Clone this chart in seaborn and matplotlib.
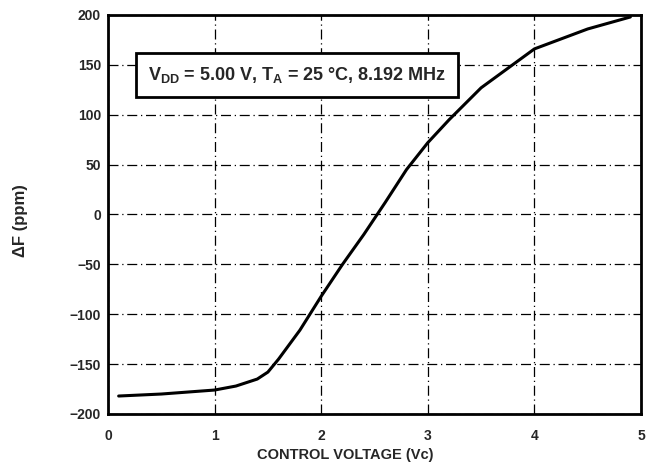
import matplotlib
matplotlib.use("Agg")
import matplotlib.pyplot as plt
import seaborn as sns
import pandas as pd

control_voltage = [0.1, 0.5, 1.0, 1.2, 1.4, 1.5, 1.6, 1.8, 2.0, 2.2, 2.4, 2.6, 2.8, 3.0, 3.2, 3.5, 4.0, 4.5, 4.9]
delta_f_ppm = [-182, -180, -176, -172, -165, -158, -145, -116, -82, -50, -20, 12, 45, 72, 95, 127, 166, 186, 198]
x_ticks = [0, 1, 2, 3, 4, 5]
x_tick_labels = ["0", "1", "2", "3", "4", "5"]
y_ticks = [-200, -150, -100, -50, 0, 50, 100, 150, 200]
annotation = "V$_{\\mathregular{DD}}$ = 5.00 V, T$_{\\mathregular{A}}$ = 25 °C, 8.192 MHz"

sns.set_style("white")
plt.rcParams["font.family"] = ["Liberation Sans", "DejaVu Sans"]
plt.rcParams["font.weight"] = "bold"

df = pd.DataFrame({"Vc": control_voltage, "dF": delta_f_ppm})

fig = plt.figure(figsize=(6.49, 4.76), dpi=100)
ax = fig.add_axes([0.1664, 0.1303, 0.8213, 0.8382])

sns.lineplot(data=df, x="Vc", y="dF", ax=ax, color="black", linewidth=2.2)

ax.set_xlim(0, 5)
ax.set_ylim(-200, 200)
ax.set_xticks(x_ticks)
ax.set_xticklabels(x_tick_labels)
ax.set_yticks(y_ticks)
ax.tick_params(length=0, labelsize=10)
ax.tick_params(axis="x", pad=11)
ax.tick_params(axis="y", pad=5)
for lab in ax.get_xticklabels() + ax.get_yticklabels():
    lab.set_fontweight("bold")

ax.grid(True, color="black", linestyle=(0, (8, 3, 1, 3)), linewidth=0.9)
for s in ax.spines.values():
    s.set_color("black")
    s.set_linewidth(2.0)

ax.set_xlabel("CONTROL VOLTAGE (Vc)", fontsize=10.5, fontweight="bold")
ax.xaxis.set_label_coords(0.445, -0.085)
ax.set_ylabel("ΔF (ppm)", fontsize=12, fontweight="bold")
ax.yaxis.set_label_coords(-0.15, 0.486)

ax.text(0.075, 0.85, annotation, transform=ax.transAxes, fontsize=13, fontweight="bold",
        va="center", ha="left",
        bbox=dict(boxstyle="square,pad=0.65", facecolor="white", edgecolor="black", linewidth=2.0))

fig.savefig("out.png", dpi=100, facecolor="white")
